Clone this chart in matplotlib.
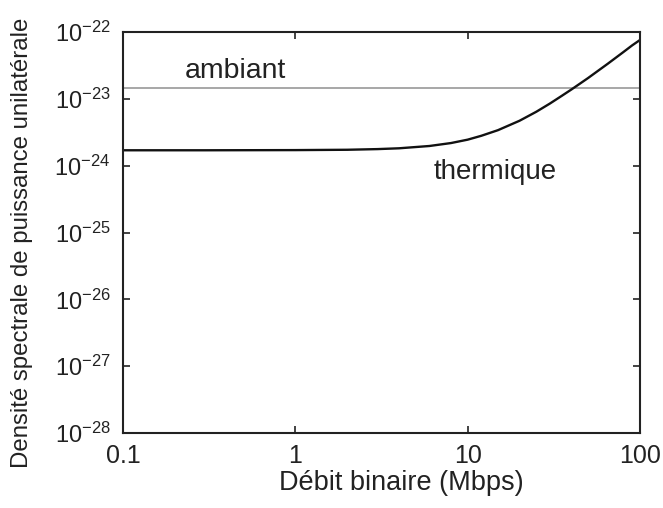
import math
import matplotlib
matplotlib.use("Agg")
import matplotlib.pyplot as plt
from matplotlib import ticker

# Bit rate (Mbps) and one-sided noise power spectral density
rate_mbps = [0.1, 0.3, 1, 2, 3, 4, 6, 8, 10, 12, 15, 20, 25, 30, 35, 40,
             45, 50, 57, 65, 72, 80, 90, 100]
thermal_psd = [1.70e-24, 1.70e-24, 1.71e-24, 1.73e-24, 1.77e-24, 1.82e-24,
               1.97e-24, 2.18e-24, 2.45e-24, 2.80e-24, 3.40e-24, 4.70e-24,
               6.40e-24, 8.50e-24, 1.10e-23, 1.38e-23, 1.70e-23, 2.05e-23,
               2.62e-23, 3.35e-23, 4.08e-23, 5.00e-23, 6.30e-23, 7.60e-23]
ambient_psd = 1.43e-23

x_ticks = [0.1, 1, 10, 100]
x_tick_labels = ["0.1", "1", "10", "100"]
y_exponents = [-28, -27, -26, -25, -24, -23, -22]

plt.rcParams["font.family"] = ["Liberation Sans", "DejaVu Sans"]
plt.rcParams["mathtext.fontset"] = "custom"
plt.rcParams["mathtext.rm"] = "Liberation Sans"
plt.rcParams["mathtext.it"] = "Liberation Sans:italic"
plt.rcParams["mathtext.bf"] = "Liberation Sans:bold"

fig = plt.figure(figsize=(6.63, 5.08), dpi=100)
ax = fig.add_axes([0.1855, 0.1476, 0.7798, 0.7894])

ax.plot([x_ticks[0], x_ticks[-1]], [ambient_psd, ambient_psd],
        color="#a0a0a0", lw=1.3)
ax.plot(rate_mbps, thermal_psd, color="#111111", lw=1.7)

ax.set_xscale("log")
ax.set_yscale("log")
ax.set_xlim(x_ticks[0], x_ticks[-1])
ax.set_ylim(10.0 ** y_exponents[0], 10.0 ** y_exponents[-1])

ax.set_xticks(x_ticks)
ax.set_xticklabels(x_tick_labels)
ax.set_yticks([10.0 ** e for e in y_exponents])
ax.yaxis.set_major_formatter(ticker.FuncFormatter(
    lambda v, pos: r"$\mathregular{10^{%d}}$" % round(math.log10(v))))
ax.xaxis.set_minor_locator(ticker.NullLocator())
ax.yaxis.set_minor_locator(ticker.NullLocator())

ax.tick_params(axis="both", which="major", direction="in", length=5,
               width=1.2, top=True, right=True, colors="#222222")
ax.tick_params(axis="x", labelsize=18, pad=8)
ax.tick_params(axis="y", labelsize=17, pad=9)
for lab in ax.get_xticklabels() + ax.get_yticklabels():
    lab.set_color("#222222")

for sp in ax.spines.values():
    sp.set_linewidth(1.5)
    sp.set_color("#222222")

ax.text(0.45, 2.6e-23, "ambiant", fontsize=20.5, color="#222222",
        ha="center", va="center")
ax.text(14.4, 8.0e-25, "thermique", fontsize=20, color="#222222",
        ha="center", va="center")

ax.set_xlabel("Débit binaire (Mbps)", fontsize=19.5, color="#222222")
ax.xaxis.set_label_coords(0.538, -0.092)
ax.set_ylabel("Densité spectrale de puissance unilatérale", fontsize=17.3,
              color="#222222")
ax.yaxis.set_label_coords(-0.174, 0.474)

fig.savefig("out.png", dpi=100)
